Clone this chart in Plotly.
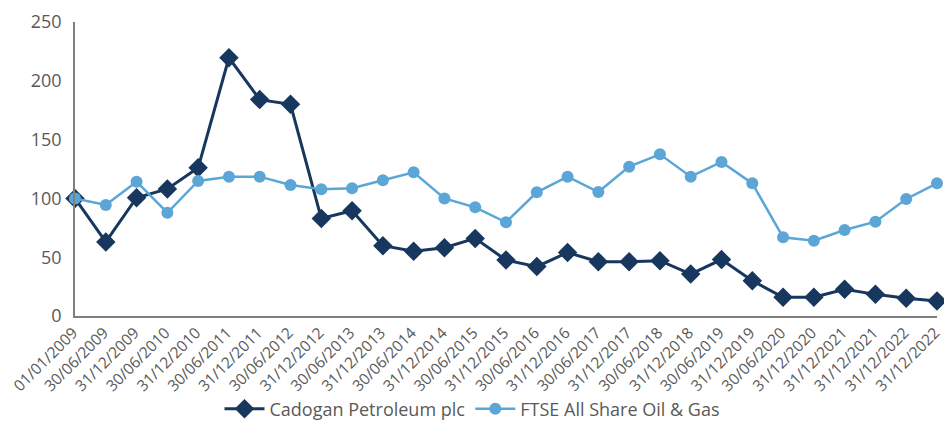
import plotly.graph_objects as go

dates = ["01/01/2009", "30/06/2009", "31/12/2009", "30/06/2010", "31/12/2010",
         "30/06/2011", "31/12/2011", "30/06/2012", "31/12/2012", "30/06/2013",
         "31/12/2013", "30/06/2014", "31/12/2014", "30/06/2015", "31/12/2015",
         "30/06/2016", "31/12/2016", "30/06/2017", "31/12/2017", "30/06/2018",
         "31/12/2018", "30/06/2019", "31/12/2019", "30/06/2020", "31/12/2020",
         "31/12/2021", "31/12/2021", "31/12/2022", "31/12/2022"]

cadogan = [100, 63, 100.6, 108, 126, 219.6, 184, 180, 83, 89.5,
           59.8, 55, 58, 66, 47.6, 42, 54, 46.2, 46.2, 47,
           35.7, 48, 30, 15.9, 15.9, 22.7, 18.4, 15, 12.8]

ftse = [100, 94.4, 114.2, 87.8, 114.8, 118.5, 118.5, 111.4, 107.7, 108.6,
        115.4, 122.2, 100, 92.4, 79.7, 105.2, 118.5, 105.4, 127, 137.5,
        118.5, 131, 112.8, 66.9, 64, 73.1, 80.2, 99.5, 112.8]

y_ticks = [0, 50, 100, 150, 200, 250]

x_pos = list(range(len(dates)))

NAVY = "#17375e"
LIGHT = "#5ba5d7"
FONT = "'Open Sans', sans-serif"
GREY = "#595959"

fig = go.Figure()
fig.add_trace(go.Scatter(
    x=x_pos, y=cadogan, name="Cadogan Petroleum plc", mode="lines+markers",
    line=dict(color=NAVY, width=3),
    marker=dict(symbol="diamond", size=15, color=NAVY),
    cliponaxis=False,
))
fig.add_trace(go.Scatter(
    x=x_pos, y=ftse, name="FTSE All Share Oil & Gas", mode="lines+markers",
    line=dict(color=LIGHT, width=2.5),
    marker=dict(symbol="circle", size=12, color=LIGHT),
    cliponaxis=False,
))

fig.update_layout(
    width=944, height=423,
    margin=dict(l=75, r=7, t=22, b=107),
    paper_bgcolor="white", plot_bgcolor="white",
    font=dict(family=FONT, color=GREY),
    showlegend=True,
    legend=dict(orientation="h", xref="container", x=0.5, xanchor="center",
                yref="container", y=0.033, yanchor="middle",
                font=dict(size=18, color=GREY), traceorder="normal",
                itemwidth=40),
    xaxis=dict(
        tickmode="array", tickvals=x_pos, ticktext=dates, tickangle=-45,
        range=[0, len(dates) - 1], showgrid=False, zeroline=False,
        showline=True, linecolor="#7f7f7f", linewidth=1.5,
        ticks="", tickfont=dict(size=15.5, color=GREY), automargin=False,
        ticklabeloverflow="allow", ticklabelshift=-2,
    ),
    yaxis=dict(
        range=[0, 250], tickvals=y_ticks, showgrid=False, zeroline=False,
        showline=True, linecolor="#7f7f7f", linewidth=1.5,
        ticks="", tickfont=dict(size=18, color=GREY), ticklabelstandoff=8,
        automargin=False,
    ),
)

fig.write_html("out.html", config={"displayModeBar": False},
               post_script="document.body.style.margin='0';document.body.style.overflow='hidden';")
